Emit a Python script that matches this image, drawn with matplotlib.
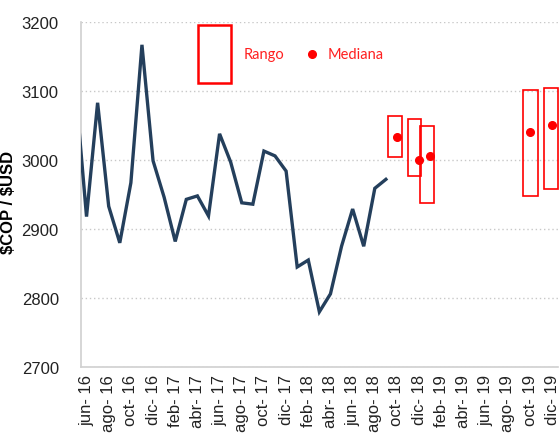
import matplotlib.pyplot as plt
import numpy as np

plt.rcParams['font.family'] = ['Liberation Sans', 'DejaVu Sans']

# monthly COP/USD, may-16 .. sep-18 (may-16 falls outside the axis and is clipped)
months_es = ['ene', 'feb', 'mar', 'abr', 'may', 'jun', 'jul', 'ago', 'sep', 'oct', 'nov', 'dic']
hist_vals = [3106, 2918, 3083, 2933, 2880, 2967, 3167, 2999,
             2946, 2882, 2943, 2948, 2919, 3038, 2997, 2938, 2936, 3013, 3006, 2984,
             2845, 2855, 2780, 2806, 2875, 2929, 2875, 2959, 2972]
hist_start = -1  # month index of first value (0 = jun-16)

# forecast ranges and medians
rng_pos = [27.86, 29.62, 30.75, 40.04, 41.93]
rng_low = [3004, 2977, 2938, 2948, 2958]
rng_high = [3064, 3059, 3049, 3101, 3104]
med_pos = [28, 30, 31, 40, 42]
med_vals = [3033, 3000, 3006, 3040, 3051]
rng_width = [1.26, 1.17, 1.26, 1.44, 1.26]

# tick labels every two months, jun-16 .. dic-19
n_months = 43
labels = []
for i in range(0, n_months, 2):
    m = (5 + i) % 12
    y = 16 + (5 + i) // 12
    labels.append(months_es[m] + '- ' + str(y))

fig = plt.figure(figsize=(5.6, 4.35), dpi=100)
ax = fig.add_axes([0.1446, 0.154, 0.8514, 0.793])

x_hist = np.arange(len(hist_vals)) + hist_start
ax.plot(x_hist, hist_vals, color='#243F5C', lw=2.4, solid_joinstyle='miter', zorder=3)

for p, lo, hi, w in zip(rng_pos, rng_low, rng_high, rng_width):
    ax.bar(p, hi - lo, bottom=lo, width=w, fill=False, edgecolor='#FF0000',
           linewidth=1.2, clip_on=False, zorder=4)
ax.plot(med_pos, med_vals, 'o', color='#FF0000', markersize=5.5, clip_on=False, zorder=5)

ax.set_xlim(-0.5, n_months - 0.5)
ax.set_ylim(2700, 3200)
ax.set_yticks(np.arange(2700, 3201, 100))
ax.set_xticks(np.arange(0, n_months, 2))
ax.set_xticklabels(labels, rotation=90, fontsize=12, color='#222222')
ax.tick_params(axis='y', labelsize=12, colors='#222222', length=0, pad=16)
ax.tick_params(axis='x', length=0, pad=5)

ax.grid(axis='y', linestyle=(0, (1, 2)), color='#C8C8C8', lw=1)
ax.set_axisbelow(True)
for s in ['top', 'right']:
    ax.spines[s].set_visible(False)
for s in ['left', 'bottom']:
    ax.spines[s].set_color('#D0D0D0')
    ax.spines[s].set_linewidth(1.2)

ax.set_ylabel(r'\$COP / \$USD', fontsize=12, fontweight='bold')
ax.yaxis.set_label_coords(-0.136, 0.48)

# hand-made legend
ax.add_patch(plt.Rectangle((0.245, 0.823), 0.069, 0.168, transform=ax.transAxes,
                           fill=False, edgecolor='#FF0000', linewidth=1.8, clip_on=False))
ax.text(0.342, 0.907, 'Rango', transform=ax.transAxes, color='#FF2020',
        fontsize=10.5, family=['Lato', 'DejaVu Sans'], va='center')
ax.plot([0.484], [0.907], 'o', color='#FF0000', markersize=5.5, transform=ax.transAxes)
ax.text(0.518, 0.907, 'Mediana', transform=ax.transAxes, color='#FF2020',
        fontsize=10.5, family=['Lato', 'DejaVu Sans'], va='center')

fig.savefig('out.png', dpi=100)
